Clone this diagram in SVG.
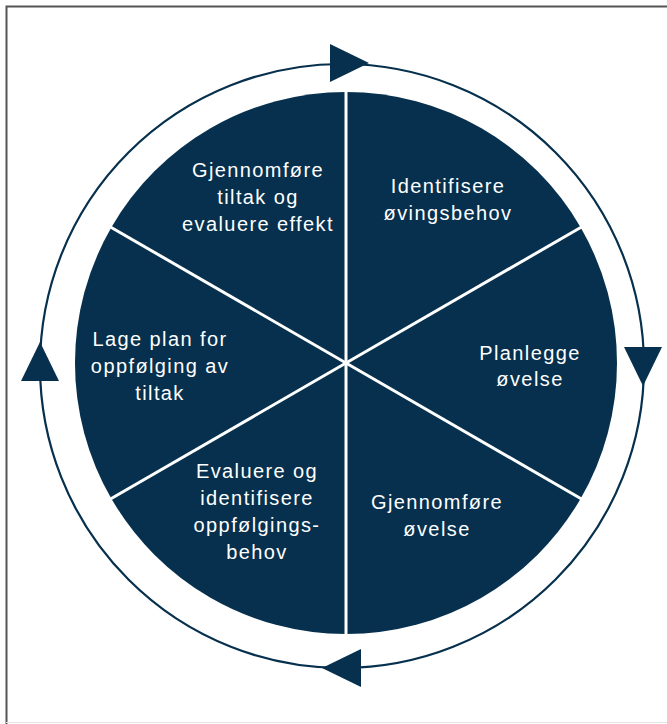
<svg xmlns="http://www.w3.org/2000/svg" width="667" height="724" viewBox="0 0 667 724">
<style>
.sec{fill:#06304d}
.lbl{fill:#ffffff;font-family:"Liberation Sans",Arial,sans-serif;font-size:20px;letter-spacing:1.4px;text-anchor:middle}
.div{stroke:#ffffff;stroke-width:3;fill:none}
.ring{stroke:#06304d;stroke-width:2.2;fill:none}
.head{fill:#06304d}
</style>
<defs>
<path id="tri" d="M-20,-19 L-20,19 L19,0 Z"/>
</defs>
<rect width="667" height="724" fill="#ffffff"/>
<path d="M6.5,724 V6.5 H667" fill="none" stroke="#555555" stroke-width="2"/>
<line x1="6" y1="722.5" x2="667" y2="722.5" stroke="#e4e4e4" stroke-width="1"/>

<g id="connectors">
<circle class="ring" cx="342" cy="366" r="302"/>
<use href="#tri" class="head" transform="translate(350,63)"/>
<use href="#tri" class="head" transform="translate(643,367) rotate(90)"/>
<use href="#tri" class="head" transform="translate(341,668) rotate(180)"/>
<use href="#tri" class="head" transform="translate(40,361) rotate(-90)"/>
</g>

<g id="node-identifisere">
<path class="sec" d="M346,363 L346,92 A271,271 0 0,1 580.7,227.5 Z"/>
<text class="lbl" x="448" y="193">Identifisere</text>
<text class="lbl" x="448" y="220">øvingsbehov</text>
</g>
<g id="node-planlegge">
<path class="sec" d="M346,363 L580.7,227.5 A271,271 0 0,1 580.7,498.5 Z"/>
<text class="lbl" x="530" y="360">Planlegge</text>
<text class="lbl" x="530" y="386">øvelse</text>
</g>
<g id="node-gjennomfore-ovelse">
<path class="sec" d="M346,363 L580.7,498.5 A271,271 0 0,1 346,634 Z"/>
<text class="lbl" x="437" y="509">Gjennomføre</text>
<text class="lbl" x="437" y="536">øvelse</text>
</g>
<g id="node-evaluere">
<path class="sec" d="M346,363 L346,634 A271,271 0 0,1 111.3,498.5 Z"/>
<text class="lbl" x="257" y="478">Evaluere og</text>
<text class="lbl" x="257" y="505">identifisere</text>
<text class="lbl" x="257" y="532">oppfølgings-</text>
<text class="lbl" x="257" y="559">behov</text>
</g>
<g id="node-lage-plan">
<path class="sec" d="M346,363 L111.3,498.5 A271,271 0 0,1 111.3,227.5 Z"/>
<text class="lbl" x="160" y="346">Lage plan for</text>
<text class="lbl" x="160" y="373">oppfølging av</text>
<text class="lbl" x="160" y="400">tiltak</text>
</g>
<g id="node-gjennomfore-tiltak">
<path class="sec" d="M346,363 L111.3,227.5 A271,271 0 0,1 346,92 Z"/>
<text class="lbl" x="258" y="177">Gjennomføre</text>
<text class="lbl" x="258" y="204">tiltak og</text>
<text class="lbl" x="258" y="231">evaluere effekt</text>
</g>

<g id="dividers">
<line class="div" x1="346" y1="90" x2="346" y2="636"/>
<line class="div" x1="109.6" y1="226.5" x2="582.4" y2="499.5"/>
<line class="div" x1="109.6" y1="499.5" x2="582.4" y2="226.5"/>
</g>
</svg>
